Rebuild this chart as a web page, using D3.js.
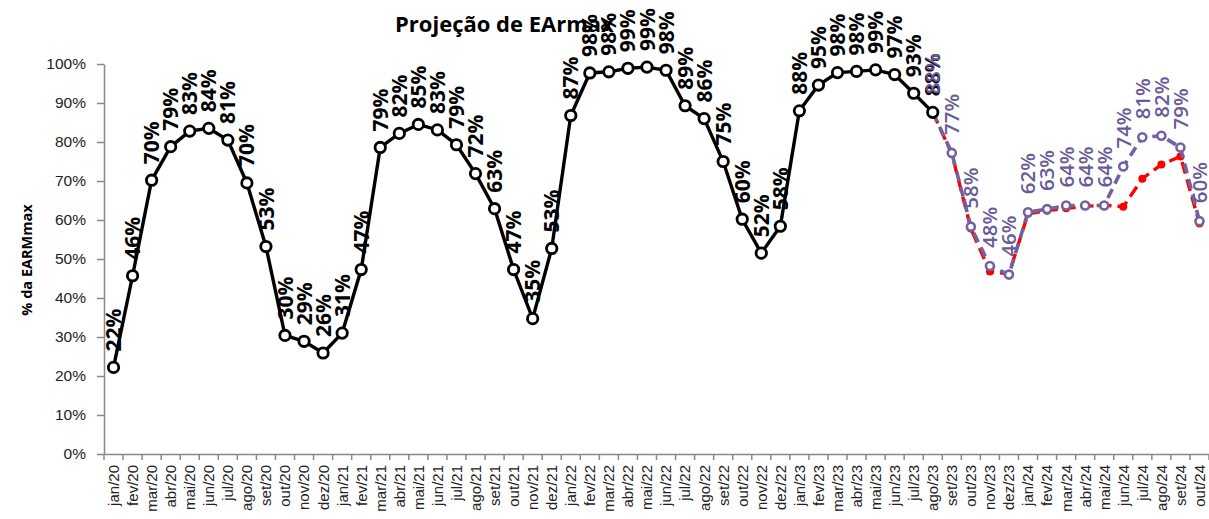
<!DOCTYPE html>
<html>
<head>
<meta charset="utf-8">
<script src="https://cdn.jsdelivr.net/npm/d3@7"></script>
<style>
	body { margin: 0; background: #fff; }
	svg { font-family: "Open Sans", sans-serif; }
	.axis path, .axis line { stroke: #898989; stroke-width: 1.5; }
	.axis text { fill: #222; }
</style>
</head>
<body>
<div class="earm-chart"></div>
<script>
	// categorias do eixo x
	const categorias = [
		"jan/20", "fev/20", "mar/20", "abr/20", "mai/20", "jun/20", "jul/20", "ago/20", "set/20", "out/20", "nov/20", "dez/20",
		"jan/21", "fev/21", "mar/21", "abr/21", "mai/21", "jun/21", "jul/21", "ago/21", "set/21", "out/21", "nov/21", "dez/21",
		"jan/22", "fev/22", "mar/22", "abr/22", "mai/22", "jun/22", "jul/22", "ago/22", "set/22", "out/22", "nov/22", "dez/22",
		"jan/23", "fev/23", "mar/23", "abr/23", "mai/23", "jun/23", "jul/23", "ago/23", "set/23", "out/23", "nov/23", "dez/23",
		"jan/24", "fev/24", "mar/24", "abr/24", "mai/24", "jun/24", "jul/24", "ago/24", "set/24", "out/24"
	];

	// verificado (jan/20 .. ago/23), em %
	const verificado = [
		22.2, 45.7, 70.2, 78.8, 82.8, 83.5, 80.5, 69.5, 53.2, 30.4, 28.9, 25.9,
		31.0, 47.3, 78.6, 82.2, 84.5, 83.1, 79.3, 71.9, 62.9, 47.3, 34.7, 52.7,
		86.8, 97.7, 98.0, 98.9, 99.2, 98.4, 89.3, 86.0, 75.0, 60.2, 51.5, 58.4,
		88.0, 94.6, 97.8, 98.1, 98.5, 97.3, 92.5, 87.6
	];

	// projeções (ago/23 .. out/24), em %
	const inicioProjecao = "ago/23";
	const projecaoRoxa = [87.6, 77.2, 58.3, 48.2, 46.0, 62.0, 62.8, 63.7, 63.7, 63.7, 73.7, 81.2, 81.6, 78.6, 59.7];
	const projecaoVermelha = [87.6, 77.0, 57.8, 46.8, 46.2, 61.6, 62.4, 63.0, 63.5, 63.8, 63.4, 70.6, 74.2, 76.3, 59.1];

	const yTicks = [0, 10, 20, 30, 40, 50, 60, 70, 80, 90, 100];

	const margin = {top: 64, right: 0, bottom: 65, left: 104},
		totalW = 1209, totalH = 519,
		width = totalW - margin.left - margin.right,
		height = totalH - margin.top - margin.bottom;

	const svg = d3.select(".earm-chart").append("svg")
		.attr("width", totalW)
		.attr("height", totalH);

	const g = svg.append("g")
		.attr("transform", "translate(" + margin.left + "," + margin.top + ")");

	const x = d3.scaleBand()
		.domain(categorias)
		.range([0, width]);

	const y = d3.scaleLinear()
		.domain([0, 100])
		.range([height, 0]);

	const cx = c => x(c) + x.bandwidth() / 2;

	// eixo y
	g.append("g")
		.attr("class", "axis y")
		.call(d3.axisLeft(y)
			.tickValues(yTicks)
			.tickFormat(d => d + "%")
			.tickSize(7)
			.tickSizeOuter(0)
			.tickPadding(11))
		.selectAll("text")
		.style("font-size", "15.5px");

	// eixo x (rótulos no centro, marcas nas divisas)
	const xAxis = g.append("g")
		.attr("class", "axis x")
		.attr("transform", "translate(0," + height + ")")
		.call(d3.axisBottom(x).tickSize(0).tickSizeOuter(0));

	xAxis.selectAll("text")
		.style("font-size", "15px")
		.style("text-anchor", "end")
		.attr("transform", "rotate(-90)")
		.attr("x", -11)
		.attr("y", 0)
		.attr("dy", "0.36em");

	xAxis.selectAll(".divisa")
		.data(categorias.concat([null]))
		.enter().append("line")
		.attr("class", "divisa")
		.attr("x1", d => d === null ? width : x(d))
		.attr("x2", d => d === null ? width : x(d))
		.attr("y1", 0)
		.attr("y2", 6);

	// séries
	const toPts = (vals, start) => {
		const i0 = categorias.indexOf(start);
		return vals.map((v, i) => ({cat: categorias[i0 + i], v: v}));
	};

	const ptsVerif = toPts(verificado, "jan/20");
	const ptsRoxa = toPts(projecaoRoxa, inicioProjecao);
	const ptsVerm = toPts(projecaoVermelha, inicioProjecao);

	const line = d3.line()
		.x(d => cx(d.cat))
		.y(d => y(d.v));

	// vermelha
	g.append("path")
		.datum(ptsVerm)
		.attr("fill", "none")
		.attr("stroke", "#ff0000")
		.attr("stroke-width", 3.4)
		.attr("stroke-dasharray", "12,6")
		.attr("d", line);

	g.selectAll(".pt-verm")
		.data(ptsVerm.slice(1))
		.enter().append("circle")
		.attr("class", "pt-verm")
		.attr("cx", d => cx(d.cat))
		.attr("cy", d => y(d.v))
		.attr("r", 4)
		.attr("fill", "#ff0000");

	// roxa
	const roxo = "#7361a0";
	g.append("path")
		.datum(ptsRoxa)
		.attr("fill", "none")
		.attr("stroke", roxo)
		.attr("stroke-width", 3.6)
		.attr("stroke-dasharray", "10,6")
		.attr("d", line);

	g.selectAll(".pt-roxa")
		.data(ptsRoxa)
		.enter().append("circle")
		.attr("class", "pt-roxa")
		.attr("cx", d => cx(d.cat))
		.attr("cy", d => y(d.v))
		.attr("r", 4)
		.attr("fill", "#fff")
		.attr("stroke", roxo)
		.attr("stroke-width", 2.6);

	// verificado
	g.append("path")
		.datum(ptsVerif)
		.attr("fill", "none")
		.attr("stroke", "#000")
		.attr("stroke-width", 3.4)
		.attr("d", line);

	g.selectAll(".pt-verif")
		.data(ptsVerif)
		.enter().append("circle")
		.attr("class", "pt-verif")
		.attr("cx", d => cx(d.cat))
		.attr("cy", d => y(d.v))
		.attr("r", 5.2)
		.attr("fill", "#fff")
		.attr("stroke", "#000")
		.attr("stroke-width", 2.8);

	// rótulos de dados
	function labels(pts, cls, color, weight, size, gap) {
		g.selectAll("." + cls)
			.data(pts)
			.enter().append("text")
			.attr("class", cls)
			.attr("transform", d => "translate(" + cx(d.cat) + "," + (y(d.v) - gap) + ") rotate(-90)")
			.attr("dy", "0.36em")
			.style("font-size", size)
			.style("font-weight", weight)
			.style("fill", color)
			.text(d => Math.round(d.v) + "%");
	}

	labels(ptsVerif, "lbl-verif", "#000", "bold", "21px", 16);
	labels(ptsRoxa, "lbl-roxa", "#6a5a98", "600", "20.5px", 18);

	// título e eixo
	svg.append("text")
		.attr("x", 395)
		.attr("y", 32)
		.style("font-size", "22px")
		.style("font-weight", "bold")
		.text("Projeção de EArmax");

	svg.append("text")
		.attr("transform", "translate(27,260) rotate(-90)")
		.attr("dy", "0.35em")
		.style("text-anchor", "middle")
		.style("font-size", "14.5px")
		.style("font-weight", "bold")
		.text("% da EARMmax");
</script>
</body>
</html>
